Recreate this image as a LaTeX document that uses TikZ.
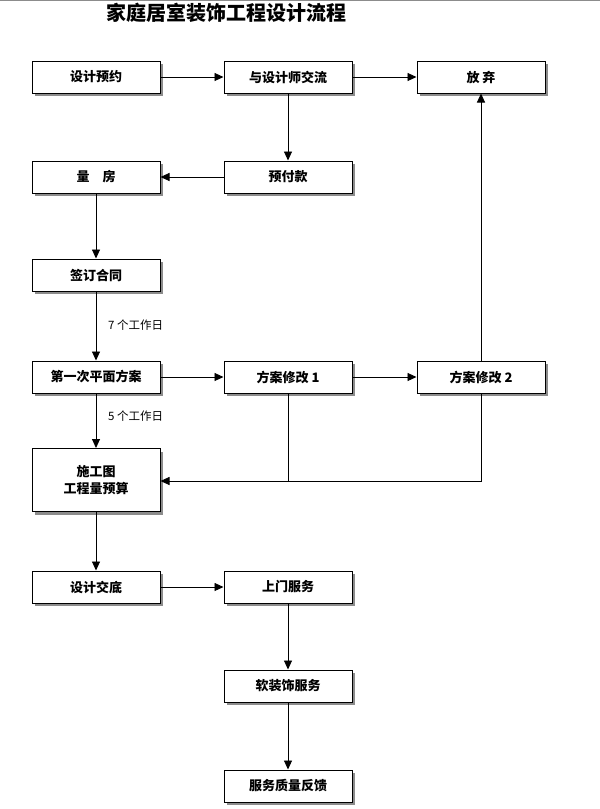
\documentclass[tikz,border=0pt]{standalone}
\usepackage{fontspec}
\newfontfamily\cjk{Noto Sans CJK SC}
\usetikzlibrary{arrows.meta,shadows}
\tikzset{
  box/.style={draw=black, line width=1pt, fill=white, minimum width=128pt, minimum height=32pt,
    inner sep=1pt, align=center, font=\cjk\bfseries\fontsize{13}{17}\selectfont,
    drop shadow={shadow xshift=3pt, shadow yshift=-3pt, fill=black!45, opacity=1}},
  conn/.style={draw=black, line width=0.9pt, -{Triangle[length=9pt,width=8pt]}},
  line/.style={draw=black, line width=0.9pt},
  lbl/.style={font=\cjk\fontsize{11.5}{13}\selectfont, anchor=west, inner sep=0pt}
}
\begin{document}
\begin{tikzpicture}[x=1pt,y=-1pt]
\useasboundingbox (0,0) rectangle (600,809);
\fill[white] (0,0) rectangle (600,809);
\draw[black!45, line width=1pt] (0,0.5) -- (600,0.5);
\node[font=\cjk\bfseries\fontsize{20}{22}\selectfont, anchor=west, inner sep=0pt] (title) at (106,13) {家庭居室装饰工程设计流程};

\node[box] (yuyue) at (96,77) {设计预约};
\node[box] (jiaoliu) at (288,77) {与设计师交流};
\node[box] (fangqi) at (481,77) {放\ 弃};
\node[box] (liangfang) at (96,177) {量\quad 房};
\node[box] (yufu) at (288,177) {预付款};
\node[box] (hetong) at (96,275) {签订合同};
\node[box] (diyici) at (96,377) {第一次平面方案};
\node[box] (xiugai1) at (288,377) {方案修改 1};
\node[box] (xiugai2) at (481,377) {方案修改 2};
\node[box, minimum height=63pt] (shigong) at (96,480) {施工图\\工程量预算};
\node[box] (jiaodi) at (96,587) {设计交底};
\node[box] (shangmen) at (288,587) {上门服务};
\node[box] (ruanzhuang) at (288,686) {软装饰服务};
\node[box] (fankui) at (288,786) {服务质量反馈};

\draw[conn] (yuyue) -- (jiaoliu);
\draw[conn] (jiaoliu) -- (fangqi);
\draw[conn] (jiaoliu) -- (yufu);
\draw[conn] (yufu) -- (liangfang);
\draw[conn] (liangfang) -- (hetong);
\draw[conn] (hetong) -- (diyici);
\draw[conn] (diyici) -- (xiugai1);
\draw[conn] (xiugai1) -- (xiugai2);
\draw[conn] (xiugai2) -- (fangqi);
\draw[conn] (diyici) -- (shigong);
\coordinate (j1) at (288,481);
\coordinate (j2) at (481,481);
\draw[line] (xiugai2.south) -- (j2) -- (j1);
\draw[conn] (xiugai1.south) -- (j1) -- (shigong.east |- j1);
\draw[conn] (shigong) -- (jiaodi);
\draw[conn] (jiaodi) -- (shangmen);
\draw[conn] (shangmen) -- (ruanzhuang);
\draw[conn] (ruanzhuang) -- (fankui);

\node[lbl] (l7) at (108,325) {7 个工作日};
\node[lbl] (l5) at (108,416) {5 个工作日};
\end{tikzpicture}
\end{document}
